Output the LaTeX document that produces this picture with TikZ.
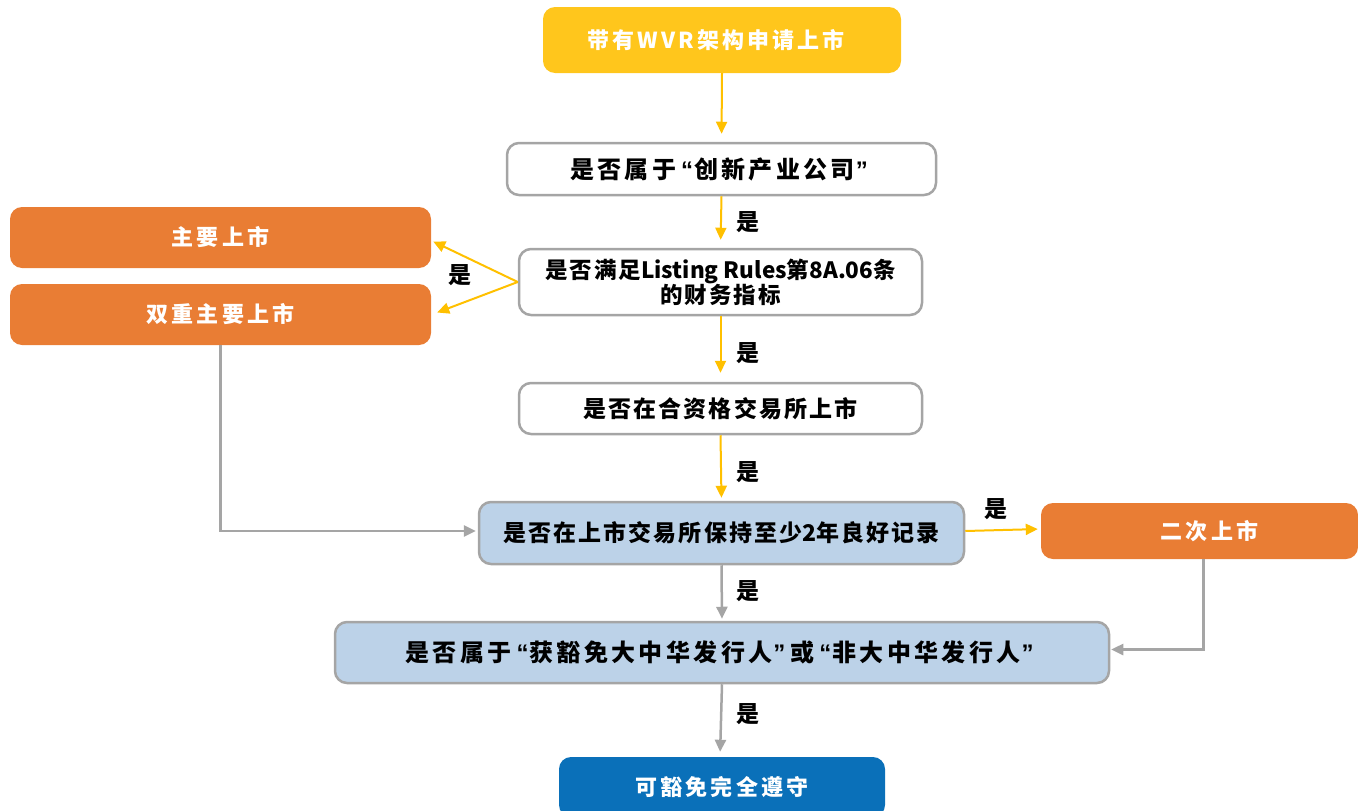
\documentclass[tikz,border=0pt]{standalone}
\usepackage{fontspec}
\setmainfont{Noto Sans CJK SC}
\newfontfamily\spaced{Noto Sans CJK SC}[LetterSpace=14]
\newfontfamily\lightspaced{Noto Sans CJK SC}[LetterSpace=9]
\newfontfamily\widespaced{Noto Sans CJK SC}[LetterSpace=14]
\newfontfamily\plainlat{Noto Sans CJK SC}
\newfontfamily\quotefont{Liberation Sans}
\newcommand{\myLq}{\hspace{5pt}{\quotefont\bfseries “}\hspace{1pt}}
\newcommand{\myRq}{\hspace{1pt}{\quotefont\bfseries ”}\hspace{5pt}}
\usetikzlibrary{arrows.meta,positioning}
\definecolor{mygray}{HTML}{A5A5A5}
\definecolor{topyellow}{HTML}{FFC61C}
\definecolor{arrowyellow}{HTML}{FFC000}
\definecolor{myorange}{HTML}{E97D34}
\definecolor{lightblue}{HTML}{BCD2E8}
\definecolor{darkblue}{HTML}{0A70B9}
\tikzset{
  box/.style={rectangle, rounded corners=12pt, inner sep=0pt, align=center},
  qbox/.style={box, draw=mygray, line width=2.5pt, fill=white, text=black,
    font=\lightspaced\fontsize{23}{27}\selectfont\bfseries},
  widetext/.style={font=\widespaced\fontsize{24}{28}\selectfont\bfseries},
  qblue/.style={qbox, fill=lightblue},
  wbox/.style={box, text=white, font=\spaced\fontsize{22}{26}\selectfont\bfseries},
  obox/.style={wbox, fill=myorange},
  lab/.style={text=black, font=\fontsize{23}{27}\selectfont\bfseries, inner sep=0pt},
  yarr/.style={draw=arrowyellow, line width=2pt, -{Triangle[length=12pt,width=11pt]}},
  garr/.style={draw=mygray, line width=2.5pt, -{Triangle[length=12pt,width=11pt]}}
}
\begin{document}
\begin{tikzpicture}[x=1pt,y=-1pt]
\useasboundingbox (0,0) rectangle (1358,811);
\clip (0,0) rectangle (1358,811);

\node[wbox, fill=topyellow, minimum width=358pt, minimum height=66pt] (top) at (722,40) {\hspace*{-12pt}带有WVR架构申请上市};
\node[qbox, widetext, minimum width=429pt, minimum height=52pt] (q1) at (721.5,169) {是否属于\myLq 创新产业公司\myRq};
\node[qbox, minimum width=403pt, minimum height=66pt, font=\lightspaced\fontsize{22.5}{25}\selectfont\bfseries] (q2) at (720.5,282) {是否满足{\plainlat Listing Rules}第{\plainlat 8A.06}条\\的财务指标};
\node[obox, minimum width=421pt, minimum height=61pt] (main) at (220.5,237.5) {主要上市};
\node[obox, minimum width=421pt, minimum height=61pt] (dual) at (220.5,314.5) {双重主要上市};
\node[qbox, minimum width=403pt, minimum height=51pt] (q3) at (720.5,408.5) {是否在合资格交易所上市};
\node[qblue, minimum width=485pt, minimum height=62pt] (q4) at (721.5,533) {是否在上市交易所保持至少{\plainlat 2}年良好记录};
\node[obox, minimum width=317pt, minimum height=56pt] (sec) at (1199.5,531) {\hspace*{20pt}二次上市};
\node[qblue, widetext, minimum width=774pt, minimum height=61pt] (q5) at (722,652.5) {是否属于\myLq 获豁免大中华发行人\myRq 或\myLq 非大中华发行人\myRq};
\node[wbox, fill=darkblue, minimum width=326pt, minimum height=60pt] (fin) at (722,787) {\raisebox{3pt}{可豁免完全遵守}};

\draw[yarr, shorten >=8pt] (top.south) -- (q1.north);
\draw[yarr, shorten >=8pt] (q1.south) -- (q2.north);
\draw[yarr, shorten >=9pt] (q2.south) -- (q3.north);
\draw[yarr, shorten >=3pt] (q3.south) -- (q4.north);
\draw[yarr] (q2.west) -- ([xshift=2pt,yshift=-4pt]main.east);
\draw[yarr] (q2.west) -- ([xshift=6pt,yshift=2pt]dual.east);
\draw[yarr, shorten >=3pt] ([yshift=2pt]q4.east) -- ([yshift=2pt]sec.west);
\draw[garr, shorten >=2pt] (dual.south) |- ([yshift=2pt]q4.west);
\draw[garr, shorten >=1pt] ([xshift=4pt]sec.south) |- ([yshift=3pt]q5.east);
\draw[garr, shorten >=2pt] (q4.south) -- (q5.north);
\draw[garr, shorten >=5pt] (q5.south) -- ([xshift=-2pt]fin.north);

\node[lab] (l1) at (748,222) {是};
\node[lab] (l2) at (460,275) {是};
\node[lab] (l3) at (748,353) {是};
\node[lab] (l4) at (748,472) {是};
\node[lab] (l5) at (996,509) {是};
\node[lab] (l6) at (748,591) {是};
\node[lab] (l7) at (748,714) {是};
\end{tikzpicture}
\end{document}
